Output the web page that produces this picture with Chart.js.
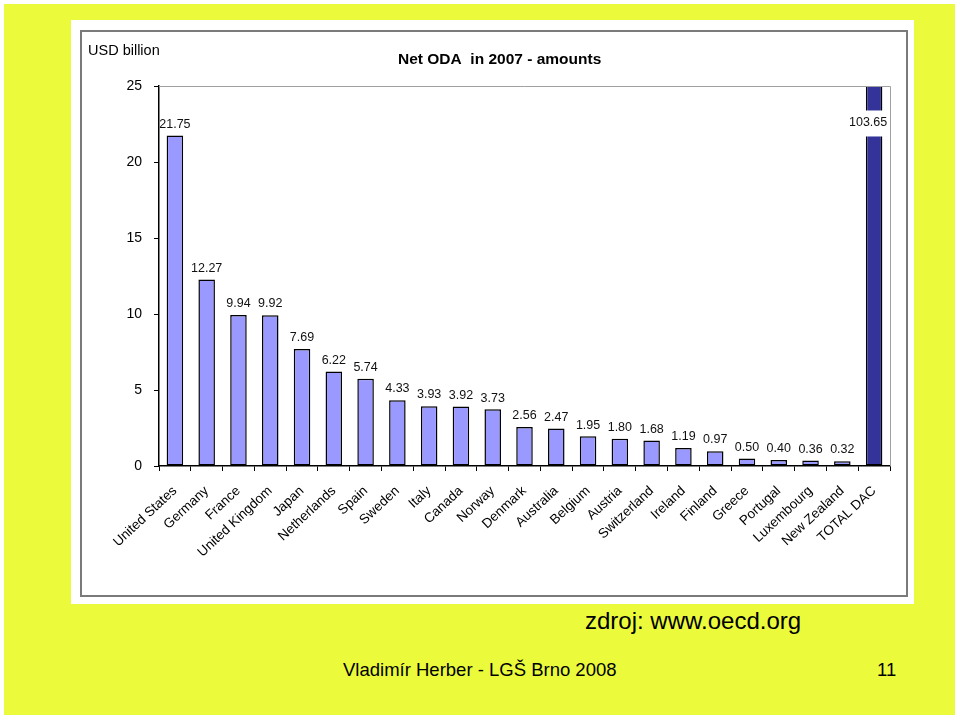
<!DOCTYPE html>
<html>
<head>
<meta charset="utf-8">
<script src="https://cdn.jsdelivr.net/npm/chart.js@4/dist/chart.umd.min.js"></script>
<style>
  body { margin: 0; width: 960px; height: 720px; background: #fff; position: relative; overflow: hidden; font-family: Arial, "Liberation Sans", sans-serif; }
  #slide { position: absolute; left: 4px; top: 4px; width: 951px; height: 711px; background: #ebfb3b; }
  #panel { position: absolute; left: 71px; top: 20px; width: 843px; height: 584px; background: #fff; }
  #frame { position: absolute; left: 80px; top: 30px; width: 824px; height: 563px; border: 2px solid #7a7a7a; background: #fff; }
  #wrap { position: absolute; left: 80px; top: 30px; width: 828px; height: 567px; }
  .txt { position: absolute; color: #000; white-space: nowrap; }
</style>
</head>
<body>
<div id="slide"></div>
<div id="panel"></div>
<div id="frame"></div>
<div id="wrap"><canvas id="myChart" width="828" height="567"></canvas></div>
<div class="txt" style="left:88px; top:42px; font-size:14.5px;">USD billion</div>
<div class="txt" style="left:398px; top:50px; font-size:15.5px; font-weight:bold;">Net ODA&nbsp; in 2007 - amounts</div>
<div class="txt" style="left:585px; top:607px; font-size:24px;">zdroj: www.oecd.org</div>
<div class="txt" style="left:343px; top:659px; font-size:18.5px;">Vladimír Herber - LGŠ Brno 2008</div>
<div class="txt" style="left:877px; top:659px; font-size:18.5px;">11</div>
<script>
var countries = ['United States', 'Germany', 'France', 'United Kingdom', 'Japan', 'Netherlands', 'Spain', 'Sweden', 'Italy', 'Canada', 'Norway', 'Denmark', 'Australia', 'Belgium', 'Austria', 'Switzerland', 'Ireland', 'Finland', 'Greece', 'Portugal', 'Luxembourg', 'New Zealand', 'TOTAL DAC'];
var odaValues = [21.75, 12.27, 9.94, 9.92, 7.69, 6.22, 5.74, 4.33, 3.93, 3.92, 3.73, 2.56, 2.47, 1.95, 1.80, 1.68, 1.19, 0.97, 0.50, 0.40, 0.36, 0.32, 103.65];
var yTicks = [0, 5, 10, 15, 20, 25];

document.addEventListener('DOMContentLoaded', function(){
  var fills = countries.map(function(c){ return c === 'TOTAL DAC' ? '#333399' : '#9999ff'; });

  // value labels above bars, the clipped total gets a white box
  var valueLabels = {
    id: 'valueLabels',
    afterDatasetsDraw: function(chart){
      var ctx = chart.ctx;
      var meta = chart.getDatasetMeta(0);
      var area = chart.chartArea;
      ctx.save();
      ctx.font = '12.5px Arial';
      ctx.fillStyle = '#111';
      ctx.textAlign = 'center';
      ctx.textBaseline = 'bottom';
      meta.data.forEach(function(bar, i){
        var txt = odaValues[i].toFixed(2);
        if (bar.y < area.top) {
          var y = chart.scales.y.getPixelForValue(22.6);
          ctx.fillStyle = '#fff';
          ctx.fillRect(bar.x - 28, y - 12, 52, 26);
          ctx.fillStyle = '#111';
          ctx.textBaseline = 'middle';
          ctx.fillText(txt, bar.x - 6, y);
          ctx.textBaseline = 'bottom';
        } else {
          ctx.fillText(txt, bar.x, bar.y - 5);
        }
      });
      // grey top and right border of the plot
      ctx.strokeStyle = '#a0a0a0';
      ctx.lineWidth = 1;
      ctx.beginPath();
      ctx.moveTo(area.left, area.top + 0.5);
      ctx.lineTo(area.right + 0.5, area.top + 0.5);
      ctx.lineTo(area.right + 0.5, area.bottom);
      ctx.stroke();
      ctx.restore();
    }
  };

  var ctx = document.getElementById('myChart').getContext('2d');
  var chart = new Chart(ctx, {
    type: 'bar',
    data: {
      labels: countries,
      datasets: [{
        data: odaValues,
        backgroundColor: fills,
        borderColor: '#000',
        borderWidth: 1.5,
        borderSkipped: false,
        barPercentage: 0.52,
        categoryPercentage: 1.0
      }]
    },
    options: {
      responsive: false,
      animation: false,
      layout: { padding: { top: 56, right: 18, left: 0, bottom: 0 } },
      plugins: { legend: { display: false }, tooltip: { enabled: false } },
      scales: {
        x: {
          grid: { display: true, drawOnChartArea: false, drawTicks: true, tickLength: 5, color: '#000', offset: true },
          border: { color: '#000', width: 1.5 },
          ticks: { color: '#000', font: { family: 'Arial', size: 13.5 }, minRotation: 43, maxRotation: 43, autoSkip: false, padding: 12 },
          afterFit: function(scale){ scale.height = 131; }
        },
        y: {
          min: 0,
          max: 25,
          afterBuildTicks: function(scale){ scale.ticks = yTicks.map(function(v){ return { value: v }; }); },
          grid: { display: true, drawOnChartArea: false, drawTicks: true, tickLength: 5, color: '#000' },
          border: { color: '#000', width: 1.5 },
          ticks: { color: '#000', font: { family: 'Arial', size: 14 }, padding: 12 },
          afterFit: function(scale){ scale.width = 79; }
        }
      }
    },
    plugins: [valueLabels]
  });
});
</script>
</body>
</html>
